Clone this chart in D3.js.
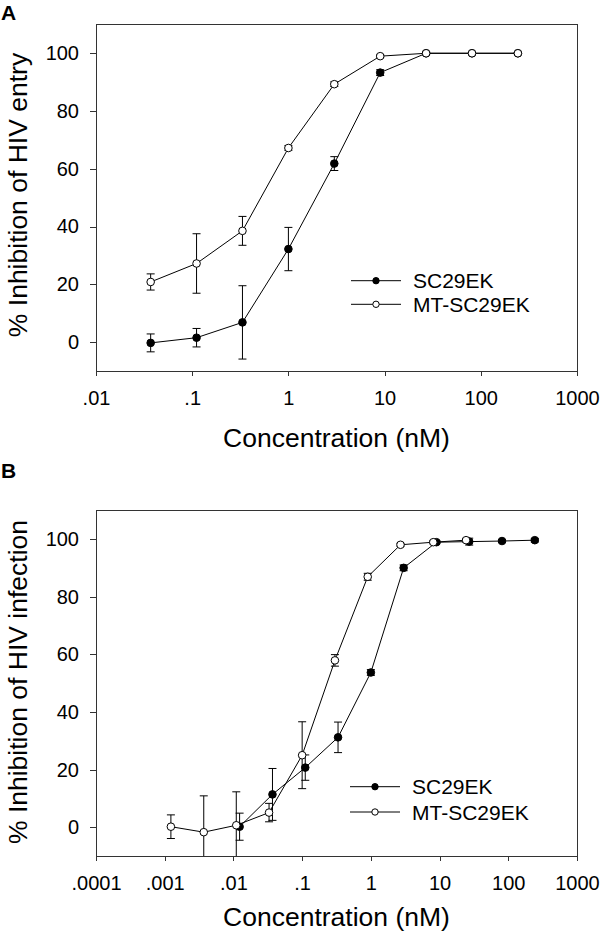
<!DOCTYPE html>
<html>
<head>
<meta charset="utf-8">
<script src="https://cdn.jsdelivr.net/npm/d3@7"></script>
<style>
  html, body { margin: 0; padding: 0; background: #fff; }
  svg { display: block; font-family: "Liberation Sans", Arial, sans-serif; }
</style>
</head>
<body>
<svg id="chart" width="600" height="939"></svg>
<script>
// ---------- Data ----------
// Panel A: inhibition of HIV entry
const concA = [0.037, 0.111, 0.333, 1, 3, 9, 27, 81, 243];
const scA = [-0.3, 1.5, 6.8, 32.2, 61.8, 93.3, 100, 100, 100];
const scAErr = [3.1, 3.2, 12.7, 7.5, 2.4, 1.0, 0.5, 0.3, 0.3];
const mtA = [20.8, 27.2, 38.5, 67.2, 89.3, 99.0, 100, 100, 100];
const mtAErr = [2.8, 10.3, 5.0, 0.8, 0.8, 0.5, 0.4, 0.3, 0.3];

// Panel B: inhibition of HIV infection
const concB_sc = [0.0123, 0.037, 0.111, 0.333, 1, 3, 9, 27, 81, 243];
const scB = [0.2, 11.4, 20.7, 31.2, 53.7, 90.0, 98.9, 99.1, 99.3, 99.6];
const scBErr = [4.7, 9.0, 4.4, 5.3, 1.0, 1.0, 0.5, 1.2, 0.5, 0.6];
const concB_mt = [0.00123, 0.0037, 0.011, 0.033, 0.1, 0.3, 0.9, 2.7, 8.1, 24.3];
const mtB = [0.2, -1.7, 0.7, 5.1, 25.0, 57.9, 86.9, 98.0, 98.9, 99.6];
const mtBErr = [4.1, 12.6, 11.6, 3.2, 11.6, 2.0, 1.2, 0.5, 0.5, 0.6];

const seriesNames = ["SC29EK", "MT-SC29EK"];
const yTicks = [0, 20, 40, 60, 80, 100];
const xTicksA = [0.01, 0.1, 1, 10, 100, 1000];
const xTickLabelsA = [".01", ".1", "1", "10", "100", "1000"];
const xTicksB = [0.0001, 0.001, 0.01, 0.1, 1, 10, 100, 1000];
const xTickLabelsB = [".0001", ".001", ".01", ".1", "1", "10", "100", "1000"];
const yTitleA = "% Inhibition of HIV entry";
const yTitleB = "% Inhibition of HIV infection";
const xTitle = "Concentration (nM)";

// ---------- Drawing ----------
const svg = d3.select("#chart");
const FRAME = "#333";

function zip(xs, ys, es) { return xs.map((x, i) => ({ x: x, y: ys[i], e: es[i] })); }

function panel(cfg) {
  const g = svg.append("g");
  const x = d3.scaleLog().domain(cfg.xDomain).range([cfg.left, cfg.right]);
  const y = d3.scaleLinear().domain([-10, 110]).range([cfg.bottom, cfg.top]);

  // frame top/right
  g.append("line").attr("x1", cfg.left).attr("x2", cfg.right).attr("y1", cfg.top).attr("y2", cfg.top)
    .attr("stroke", FRAME).attr("stroke-width", 1).attr("shape-rendering", "crispEdges");
  g.append("line").attr("x1", cfg.right).attr("x2", cfg.right).attr("y1", cfg.top).attr("y2", cfg.bottom)
    .attr("stroke", FRAME).attr("stroke-width", 1).attr("shape-rendering", "crispEdges");

  // axes
  const xAxis = d3.axisBottom(x).tickValues(cfg.xTicks)
    .tickFormat((d, i) => cfg.xTickLabels[i]).tickSize(5).tickSizeOuter(0).tickPadding(15);
  const gx = g.append("g").attr("transform", `translate(0,${cfg.bottom})`).call(xAxis);
  const yAxis = d3.axisLeft(y).tickValues(yTicks).tickSize(6).tickSizeOuter(0).tickPadding(11);
  const gy = g.append("g").attr("transform", `translate(${cfg.left},0)`).call(yAxis);
  [gx, gy].forEach(a => {
    a.selectAll("path.domain").attr("stroke", FRAME).attr("shape-rendering", "crispEdges");
    a.selectAll(".tick line").attr("stroke", FRAME).attr("shape-rendering", "crispEdges");
    a.selectAll("text").attr("font-size", 20).attr("fill", "#000")
      .attr("font-family", "'Liberation Sans', Arial, sans-serif");
  });

  // titles
  g.append("text").attr("x", (cfg.left + cfg.right) / 2).attr("y", cfg.xTitleY)
    .attr("text-anchor", "middle").attr("font-size", 26.5).text(xTitle);
  g.append("text").attr("transform", `translate(27,${cfg.yTitleCy}) rotate(-90)`)
    .attr("text-anchor", "middle").attr("font-size", 26.5).text(cfg.yTitle);
  g.append("text").attr("x", 1).attr("y", cfg.letterY).attr("font-size", 21)
    .attr("font-weight", "bold").text(cfg.letter);

  const line = d3.line().x(d => x(d.x)).y(d => y(d.y));
  const [yMin, yMax] = y.domain();

  function drawSeries(data, filled) {
    // error bars
    const eb = g.append("g").attr("stroke", "#000").attr("stroke-width", 1);
    data.forEach(d => {
      const cx = x(d.x);
      const y1 = y(Math.min(yMax, d.y + d.e));
      const y0 = y(Math.max(yMin, d.y - d.e));
      eb.append("line").attr("x1", cx).attr("x2", cx).attr("y1", y1).attr("y2", y0);
      if (d.y + d.e <= yMax)
        eb.append("line").attr("x1", cx - 4).attr("x2", cx + 4).attr("y1", y1).attr("y2", y1);
      if (d.y - d.e >= yMin)
        eb.append("line").attr("x1", cx - 4).attr("x2", cx + 4).attr("y1", y0).attr("y2", y0);
    });
    g.append("path").datum(data).attr("d", line).attr("fill", "none")
      .attr("stroke", "#000").attr("stroke-width", 1);
    g.append("g").selectAll("circle").data(data).join("circle")
      .attr("cx", d => x(d.x)).attr("cy", d => y(d.y)).attr("r", 3.8)
      .attr("fill", filled ? "#000" : "#fff").attr("stroke", "#000").attr("stroke-width", 1);
  }
  drawSeries(cfg.sc, true);
  drawSeries(cfg.mt, false);

  // legend
  const lg = g.append("g");
  seriesNames.forEach((name, i) => {
    const ly = cfg.legendY[i];
    lg.append("line").attr("x1", cfg.legendX).attr("x2", cfg.legendX + 50).attr("y1", ly).attr("y2", ly)
      .attr("stroke", "#000").attr("stroke-width", 1);
    lg.append("circle").attr("cx", cfg.legendX + 25).attr("cy", ly).attr("r", 3.2)
      .attr("fill", i === 0 ? "#000" : "#fff").attr("stroke", "#000").attr("stroke-width", 1);
    lg.append("text").attr("x", cfg.legendX + 62).attr("y", ly).attr("dy", "0.36em")
      .attr("font-size", 21).text(name);
  });
}

panel({
  letter: "A", letterY: 20,
  left: 96, right: 577, top: 24.4, bottom: 370.9,
  xDomain: [0.01, 1000], xTicks: xTicksA, xTickLabels: xTickLabelsA,
  xTitleY: 447, yTitle: yTitleA, yTitleCy: 195,
  sc: zip(concA, scA, scAErr), mt: zip(concA, mtA, mtAErr),
  legendX: 351, legendY: [280.7, 304.3]
});

panel({
  letter: "B", letterY: 478,
  left: 96, right: 577, top: 510.2, bottom: 856.1,
  xDomain: [0.0001, 1000], xTicks: xTicksB, xTickLabels: xTickLabelsB,
  xTitleY: 926, yTitle: yTitleB, yTitleCy: 682,
  sc: zip(concB_sc, scB, scBErr), mt: zip(concB_mt, mtB, mtBErr),
  legendX: 350, legendY: [786.7, 812]
});
</script>
</body>
</html>
